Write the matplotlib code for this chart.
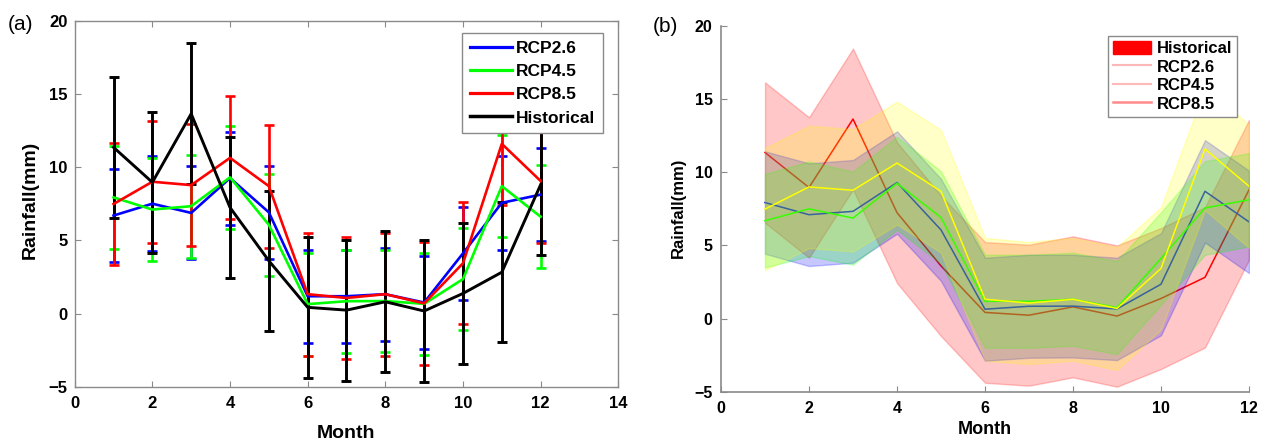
import matplotlib
matplotlib.use("Agg")
import matplotlib.pyplot as plt
from matplotlib.patches import Patch
from matplotlib.lines import Line2D

plt.rcParams['font.family'] = ['Liberation Sans', 'DejaVu Sans']

months = [1, 2, 3, 4, 5, 6, 7, 8, 9, 10, 11, 12]

rcp26_mean = [6.69, 7.50, 6.87, 9.25, 6.91, 1.18, 1.18, 1.32, 0.75, 4.11, 7.56, 8.12]
rcp26_sd   = [3.20, 3.23, 3.18, 3.18, 3.16, 3.18, 3.18, 3.18, 3.18, 3.16, 3.20, 3.19]
rcp45_mean = [7.93, 7.10, 7.33, 9.30, 6.06, 0.64, 0.84, 0.85, 0.66, 2.35, 8.70, 6.61]
rcp45_sd   = [3.50, 3.51, 3.51, 3.50, 3.49, 3.52, 3.52, 3.51, 3.50, 3.49, 3.50, 3.50]
rcp85_mean = [7.48, 9.00, 8.77, 10.63, 8.70, 1.32, 1.06, 1.32, 0.69, 3.43, 11.59, 9.05]
rcp85_sd   = [4.18, 4.18, 4.18, 4.20, 4.20, 4.20, 4.17, 4.20, 4.20, 4.18, 4.18, 4.22]
hist_mean  = [11.35, 8.96, 13.64, 7.24, 3.60, 0.42, 0.23, 0.80, 0.17, 1.37, 2.82, 8.80]
hist_sd    = [4.80, 4.80, 4.82, 4.81, 4.80, 4.81, 4.82, 4.82, 4.83, 4.82, 4.80, 4.78]

labels_a = ['RCP2.6', 'RCP4.5', 'RCP8.5', 'Historical']
labels_b = ['Historical', 'RCP2.6', 'RCP4.5', 'RCP8.5']

W, H = 1265, 447
fig = plt.figure(figsize=(W / 100, H / 100), dpi=100)

grey = '#8a8a8a'

# ---------------- panel (a) ----------------
ax1 = fig.add_axes([74.7 / W, 1 - 386.7 / H, (618.3 - 74.7) / W, (386.7 - 20.7) / H])
series_a = [
    (rcp26_mean, rcp26_sd, '#0000ff', 1.9),
    (rcp45_mean, rcp45_sd, '#00ff00', 1.9),
    (rcp85_mean, rcp85_sd, '#ff0000', 1.9),
    (hist_mean, hist_sd, '#000000', 2.1),
]
handles_a = []
for (m, s, c, lw), lab in zip(series_a, labels_a):
    ax1.errorbar(months, m, yerr=s, color=c, lw=lw, elinewidth=lw,
                 capsize=3.4, capthick=lw, label=lab)
    handles_a.append(Line2D([0], [0], color=c, lw=lw + 0.4))

ax1.set_xlim(0, 14)
ax1.set_ylim(-5, 20)
ax1.set_xticks(range(0, 15, 2))
ax1.set_yticks(range(-5, 21, 5))
for sp in ax1.spines.values():
    sp.set_color(grey)
    sp.set_linewidth(1.0)
ax1.tick_params(direction='in', length=4, color=grey, top=True, right=True,
                labelsize=12)
ax1.tick_params(axis='x', pad=7)
ax1.tick_params(axis='y', pad=5)
for t in ax1.get_xticklabels() + ax1.get_yticklabels():
    t.set_fontweight('bold')
ax1.set_xlabel('Month', fontsize=14, fontweight='bold')
ax1.xaxis.set_label_coords(0.5, -0.129)
ax1.xaxis.label.set_verticalalignment('center')
ax1.set_ylabel('Rainfall(mm)', fontsize=14, fontweight='bold')
ax1.yaxis.set_label_coords(-0.082, 0.51)
ax1.yaxis.label.set_verticalalignment('center')
leg1 = ax1.legend(handles_a, labels_a, loc='upper right',
                  bbox_to_anchor=(0.972, 0.966), borderaxespad=0,
                  prop={'weight': 'bold', 'size': 12.5}, frameon=True,
                  fancybox=False, framealpha=1, edgecolor=grey,
                  handlelength=2.4, handletextpad=0.25, labelspacing=0.46,
                  borderpad=0.45)
leg1.get_frame().set_linewidth(1.0)
leg1.set_zorder(10)

fig.text(8 / W, 1 - 24 / H, '(a)', fontsize=15, va='center', ha='left')

# ---------------- panel (b) ----------------
ax2 = fig.add_axes([721 / W, 1 - 391.7 / H, (1249 - 721) / W, (391.7 - 26) / H])
series_b = [
    (hist_mean, hist_sd, '#ff0000'),
    (rcp45_mean, rcp45_sd, '#0000ff'),
    (rcp26_mean, rcp26_sd, '#00ff00'),
    (rcp85_mean, rcp85_sd, '#ffff00'),
]
for i, (m, s, c) in enumerate(series_b):
    lo = [a - b for a, b in zip(m, s)]
    hi = [a + b for a, b in zip(m, s)]
    ax2.fill_between(months, lo, hi, facecolor=c, edgecolor=c, alpha=0.22,
                     lw=1.0, zorder=1 + 2 * i)
    ax2.plot(months, m, color=c, lw=1.1, zorder=2 + 2 * i)

ax2.set_xlim(0, 12)
ax2.set_ylim(-5, 20)
ax2.set_xticks(range(0, 13, 2))
ax2.set_yticks(range(-5, 21, 5))
ax2.spines['top'].set_visible(False)
ax2.spines['right'].set_visible(False)
for k in ('left', 'bottom'):
    ax2.spines[k].set_color(grey)
    ax2.spines[k].set_linewidth(1.2)
ax2.tick_params(direction='in', length=4, color=grey, labelsize=11.5)
ax2.tick_params(axis='x', pad=7)
ax2.tick_params(axis='y', pad=6)
for t in ax2.get_xticklabels() + ax2.get_yticklabels():
    t.set_fontweight('bold')
ax2.set_xlabel('Month', fontsize=13, fontweight='bold')
ax2.xaxis.set_label_coords(0.5, -0.102)
ax2.xaxis.label.set_verticalalignment('center')
ax2.set_ylabel('Rainfall(mm)', fontsize=12, fontweight='bold')
ax2.yaxis.set_label_coords(-0.081, 0.504)
ax2.yaxis.label.set_verticalalignment('center')

handles_b = [
    Patch(facecolor='#ff0000', edgecolor='#ff0000'),
    Line2D([0], [0], color='#ffb8b8', lw=1.5),
    Line2D([0], [0], color='#ffb8b8', lw=1.5),
    Line2D([0], [0], color='#ff8a8a', lw=1.8),
]
leg2 = ax2.legend(handles_b, labels_b, loc='upper right',
                  bbox_to_anchor=(0.977, 0.973), borderaxespad=0,
                  prop={'weight': 'bold', 'size': 12}, frameon=True,
                  fancybox=False, framealpha=1, edgecolor=grey,
                  handlelength=2.3, handleheight=0.8, handletextpad=0.3,
                  labelspacing=0.2, borderpad=0.3)
leg2.get_frame().set_linewidth(1.0)
leg2.set_zorder(20)

fig.text(653 / W, 1 - 26 / H, '(b)', fontsize=15, va='center', ha='left')

fig.savefig('out.png', dpi=100)
